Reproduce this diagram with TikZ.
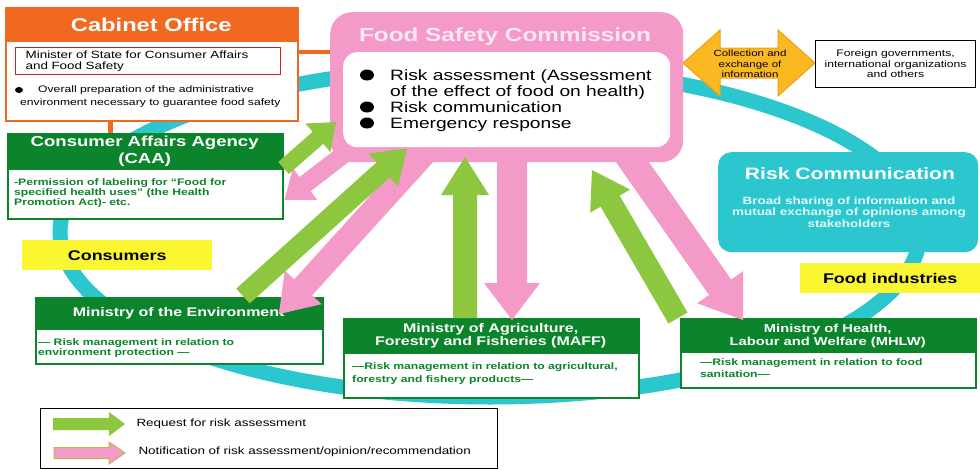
\documentclass[tikz,border=0pt]{standalone}
\usepackage{fontspec}
\setmainfont[FakeStretch=1.28]{Liberation Sans}
\usetikzlibrary{calc}
\definecolor{pinkc}{RGB}{244,154,200}
\definecolor{pinklt}{RGB}{253,232,243}
\definecolor{greenarr}{RGB}{141,198,63}
\definecolor{darkgreen}{RGB}{12,132,44}
\definecolor{cyanc}{RGB}{44,198,206}
\definecolor{yellowc}{RGB}{250,246,50}
\definecolor{orangec}{RGB}{241,104,33}
\definecolor{redc}{RGB}{200,35,45}
\definecolor{goldc}{RGB}{250,185,35}
\definecolor{goldd}{RGB}{238,160,20}
\definecolor{olivec}{RGB}{190,180,80}
\definecolor{rctext}{RGB}{228,250,250}
\newcommand{\fsz}[2]{\fontsize{#1}{#2}\selectfont}
\newcommand{\blockarrow}[6]{%
  \coordinate (bahead) at ($(#3)!#6!(#2)$);
  \fill[#1] ($(#2)!#4!90:(#3)$) -- ($(bahead)!#4!90:(#3)$) -- ($(bahead)!#5!90:(#3)$) -- (#3) -- ($(bahead)!#5!-90:(#3)$) -- ($(bahead)!#4!-90:(#3)$) -- ($(#2)!#4!-90:(#3)$) -- cycle;}
\tikzset{
  hdr/.style={anchor=north west, fill=darkgreen, text=white, inner sep=0, align=center, font=\bfseries\fsz{12.5}{13}},
  bodybox/.style={anchor=north west, draw=darkgreen, line width=1.5pt, fill=white, inner sep=0},
  bodytxt/.style={anchor=north west, inner sep=0, align=left, text=darkgreen, font=\bfseries\fsz{9.5}{12.5}},
  ylabel/.style={anchor=north west, fill=yellowc, inner sep=0, font=\bfseries\fsz{14}{16}},
  greenA/.style={fill=greenarr},
  pinkA/.style={fill=pinkc},
  plainbox/.style={anchor=north west, inner sep=0},
}
\begin{document}
\begin{tikzpicture}[x=1pt,y=-1pt]
\useasboundingbox (0,0) rectangle (980,469);
\fill[white] (0,0) rectangle (980,469);
% ring
\draw[cyanc, line width=15pt] (490,232) ellipse [x radius=430pt, y radius=165pt];
% Cabinet Office
\node[plainbox, draw=orangec, line width=2pt, fill=white, minimum width=292pt, minimum height=113pt] (cab) at (5,7) {};
\node[plainbox, fill=orangec, text=white, minimum width=292pt, minimum height=35pt, font=\bfseries\fsz{18.5}{20}] (cabhead) at (5,7) {Cabinet Office};
\node[anchor=north west, draw=redc, line width=1.2pt, fill=white, text width=245pt, inner xsep=10pt, inner ysep=0pt, minimum height=27pt, align=left, font=\fsz{10.5}{11.5}] (minister) at (15,47) {Minister of State for Consumer Affairs\\and Food Safety};
\fill (19,90) ellipse [x radius=4pt, y radius=3pt];
\node[plainbox, align=left, font=\fsz{9.5}{13}] (cabtxt) at (20,85) {\hspace*{18pt}Overall preparation of the administrative\\environment necessary to guarantee food safety};
% CAA
\node[bodybox, minimum width=275pt, minimum height=85pt] (caa) at (7,133) {};
\node[hdr, minimum width=275pt, minimum height=37pt, font=\bfseries\fsz{14.5}{17}] (caahead) at (7,133) {Consumer Affairs Agency\\(CAA)};
\node[bodytxt, font=\bfseries\fsz{9.5}{10}] (caatxt) at (14,178) {-Permission of labeling for “Food for\\specified health uses” (the Health\\Promotion Act)- etc.};
% orange connectors
\coordinate (ox) at (110,0);
\draw[orangec, line width=4pt] ($(cab.north east)+(0,45)$) -- ($(cab.north east)+(40,45)$);
\draw[orangec, line width=5pt] (cab.south -| ox) -- (caahead.north -| ox);
% labels
\node[ylabel, minimum width=190pt, minimum height=30pt] (consumers) at (22,240) {Consumers};
\node[ylabel, minimum width=180pt, minimum height=30pt] (foodind) at (800,263) {Food industries};
% Risk communication
\node[plainbox, fill=cyanc, rounded corners=13pt, minimum width=260pt, minimum height=100pt] (rc) at (718,152) {};
\node[text=white, font=\bfseries\fsz{16.5}{18}] (rctitle) at (850,174) {Risk Communication};
\node[text=rctext, align=center, font=\bfseries\fsz{10.5}{11.5}] (rctxt) at (849,212) {Broad sharing of information and\\mutual exchange of opinions among\\stakeholders};
% double arrow and foreign
\filldraw[fill=goldc, draw=goldd, line width=1pt] (683,63) -- (720,30) -- (720,48) -- (778,48) -- (778,30) -- (815,63) -- (778,96) -- (778,78) -- (720,78) -- (720,96) -- cycle;
\node[font=\fsz{9}{10.5}, align=center] (collect) at (750,64) {Collection and\\exchange of\\information};
\node[plainbox, draw=black, line width=1.2pt, fill=white, minimum width=160pt, minimum height=47pt, align=center, font=\fsz{9.5}{10.5}] (foreign) at (815,40) {Foreign governments,\\international organizations\\and others};
% ministries
\node[bodybox, minimum width=287pt, minimum height=66pt] (env) at (35,297) {};
\node[hdr, minimum width=287pt, minimum height=33pt] (envhead) at (35,297) {Ministry of the Environment};
\node[bodytxt, font=\bfseries\fsz{9.5}{10}] (envtxt) at (38,338) {— Risk management in relation to\\environment protection —};
\node[bodybox, minimum width=295pt, minimum height=79pt] (maff) at (343,318) {};
\node[hdr, minimum width=295pt, minimum height=36pt] (maffhead) at (343,318) {Ministry of Agriculture,\\Forestry and Fisheries (MAFF)};
\node[bodytxt, font=\bfseries\fsz{9.5}{13}] (mafftxt) at (352,362.5) {—Risk management in relation to agricultural,\\forestry and fishery products—};
\node[bodybox, minimum width=295pt, minimum height=69pt] (mhlw) at (680,318) {};
\node[hdr, minimum width=295pt, minimum height=35pt, font=\bfseries\fsz{11.5}{13}] (mhlwhead) at (680,318) {Ministry of Health,\\Labour and Welfare (MHLW)};
\node[bodytxt, font=\bfseries\fsz{9.5}{12}] (mhlwtxt) at (700,358.5) {—Risk management in relation to food\\sanitation—};
% legend
\node[plainbox, draw=black, line width=1.2pt, minimum width=457pt, minimum height=60pt] (legend) at (40,408) {};
\coordinate (lg1s) at (53,424);
\coordinate (lg1e) at (125,424);
\coordinate (lg2s) at (54,453);
\coordinate (lg2e) at (125,453);
\blockarrow{greenA}{lg1s}{lg1e}{6pt}{12pt}{16pt}
\blockarrow{pinkA, draw=olivec, line width=1pt}{lg2s}{lg2e}{5.5pt}{11pt}{16pt}
\node[anchor=west, font=\fsz{10.5}{12}] (lgt1) at (133,424) {Request for risk assessment};
\node[anchor=west, font=\fsz{10.5}{12}] (lgt2) at (135,452) {Notification of risk assessment/opinion/recommendation};
% Food Safety Commission
\node[plainbox, fill=pinkc, rounded corners=22pt, minimum width=353pt, minimum height=150pt] (fsc) at (330,12) {};
\coordinate (p1s) at ($(fsc.north west)+(22,136)$);
\coordinate (p1e) at ($(caa.north east)+(1,67)$);
\coordinate (p2s) at ($(fsc.north west)+(96,140)$);
\coordinate (p2e) at ($(envhead.north west)+(244,17)$);
\coordinate (p3s) at ($(fsc.north west)+(182,138)$);
\coordinate (p3e) at ($(maffhead.north west)+(169,2)$);
\coordinate (p4s) at ($(fsc.north west)+(294,138)$);
\coordinate (p4e) at ($(mhlwhead.north west)+(63,2)$);
\blockarrow{pinkA}{p1s}{p1e}{9pt}{20pt}{26pt}
\blockarrow{pinkA}{p2s}{p2e}{12pt}{25pt}{36pt}
\blockarrow{pinkA}{p3s}{p3e}{15pt}{28pt}{37pt}
\blockarrow{pinkA}{p4s}{p4e}{13.5pt}{28pt}{40pt}
\node[plainbox, fill=white, rounded corners=14pt, minimum width=327pt, minimum height=95pt] (fscin) at (343,52) {};
\node[text=pinklt, font=\bfseries\fsz{19}{21}] (fsctitle) at (505,37) {Food Safety Commission};
\fill (367,75) ellipse [x radius=7pt, y radius=5.5pt];
\fill (367,107) ellipse [x radius=7pt, y radius=5.5pt];
\fill (367,123) ellipse [x radius=7pt, y radius=5.5pt];
\node[plainbox, align=left, font=\fsz{15}{16}] (fsctxt) at (390,69) {Risk assessment (Assessment\\of the effect of food on health)\\Risk communication\\Emergency response};
% green arrows
\coordinate (g1s) at ($(caa.north east)+(0,35)$);
\coordinate (g1e) at ($(fsc.north west)+(6,110)$);
\coordinate (g2s) at ($(envhead.north west)+(208,-1)$);
\coordinate (g2e) at ($(fscin.south west)+(64,1)$);
\coordinate (g3s) at ($(maffhead.north west)+(122,0)$);
\coordinate (g3e) at ($(fsc.north west)+(135,145)$);
\coordinate (g4s) at ($(mhlwhead.north west)+(-2,0)$);
\coordinate (g4e) at ($(fsc.north west)+(262,158)$);
\blockarrow{greenA}{g1s}{g1e}{8pt}{19pt}{24pt}
\blockarrow{greenA}{g2s}{g2e}{10pt}{22pt}{32pt}
\blockarrow{greenA}{g3s}{g3e}{12pt}{24pt}{38pt}
\blockarrow{greenA}{g4s}{g4e}{11pt}{23pt}{36pt}
\end{tikzpicture}
\end{document}
